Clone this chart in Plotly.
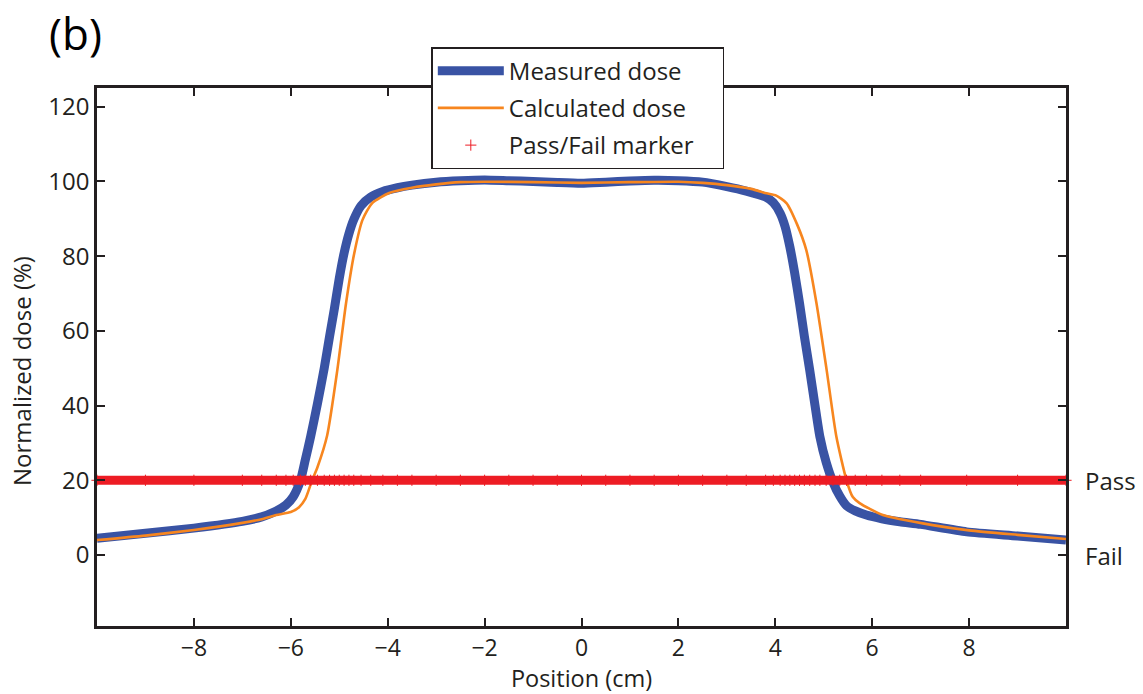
import plotly.graph_objects as go

# ---- data ----
pos_meas = [-10, -9, -8, -7, -6.6, -6.3, -6.1, -5.95, -5.8, -5.7, -5.59, -5.45, -5.31, -5.2, -5.1,
            -5.0, -4.9, -4.8, -4.7, -4.55, -4.35, -4.1, -3.8, -3.5, -3.0, -2.5, -2.0, -1.5, -1.0, -0.5,
            0.0, 0.5, 1.0, 1.5, 2.0, 2.5, 3.0, 3.4, 3.8, 3.96, 4.1, 4.2, 4.3, 4.4, 4.5,
            4.6, 4.71, 4.82, 4.92, 5.05, 5.19, 5.33, 5.47, 5.65, 5.88, 6.2, 6.57, 7.0, 7.95, 9.0, 10.0]
dose_meas = [4.5, 5.8, 7.2, 9.0, 10.2, 11.8, 13.4, 15.6, 20.0, 25.5, 31.7, 40.5, 50.0, 58.5, 66.0,
             74.0, 80.8, 86.0, 89.8, 93.5, 95.8, 97.3, 98.3, 99.0, 99.8, 100.2, 100.4, 100.2, 100.0, 99.7,
             99.5, 99.8, 100.1, 100.3, 100.2, 99.8, 98.6, 97.4, 95.8, 94.3, 91.5, 88.0, 82.5, 75.5, 67.4,
             58.5, 49.5, 40.0, 31.7, 24.8, 19.5, 15.8, 13.2, 11.8, 10.7, 9.7, 8.9, 8.2, 6.2, 5.1, 4.0]

pos_calc = [-10, -9, -8, -7, -6.6, -6.3, -6.0, -5.83, -5.7, -5.56, -5.45, -5.25, -5.04, -4.86, -4.69,
            -4.52, -4.32, -3.97, -3.5, -3.0, -2.5, -2.0, -1.0, 0.0, 1.0, 2.0, 2.5, 3.0, 3.5, 3.82,
            4.02, 4.23, 4.45, 4.64, 4.85, 5.06, 5.26, 5.47, 5.6, 5.74, 6.22, 7.25, 8.0, 9.0, 10.0]
dose_calc = [4.0, 5.2, 6.7, 8.6, 9.6, 10.7, 11.5, 12.8, 15.0, 20.0, 23.5, 32.0, 49.5, 67.4, 80.8,
             89.7, 94.2, 96.9, 98.3, 99.2, 99.8, 99.9, 99.8, 99.6, 99.8, 99.9, 99.6, 99.0, 98.0, 96.8,
             96.2, 94.2, 88.5, 81.6, 67.4, 49.5, 31.7, 20.0, 15.5, 13.9, 10.7, 8.0, 6.6, 5.4, 4.3]

passfail_level = 20
passfail_y = [passfail_level] * len(pos_meas)

x_ticks = [-8, -6, -4, -2, 0, 2, 4, 6, 8]
x_ticktext = ["\u22128", "\u22126", "\u22124", "\u22122", "0", "2", "4", "6", "8"]
y_ticks = [0, 20, 40, 60, 80, 100, 120]
right_labels = ["Pass", "Fail"]
right_label_vals = [20, 0]

BLUE = "#3953A4"
ORANGE = "#F7861F"
RED = "#ED1C24"
INK = "#231F20"
FONT = "Open Sans"
FS = 24
PAD = "\u00a0" * 5  # widens the legend box to match the reference

fig = go.Figure()
fig.add_trace(go.Scatter(x=pos_meas, y=dose_meas, mode="lines", name="Measured dose",
                         line=dict(color=BLUE, width=9, shape="spline", smoothing=0.6), legendgroup="a"))
fig.add_trace(go.Scatter(x=pos_calc, y=dose_calc, mode="lines", name="Calculated dose" + PAD,
                         line=dict(color=ORANGE, width=2.6, shape="spline", smoothing=0.6), legendgroup="b"))
fig.add_trace(go.Scatter(x=pos_meas, y=passfail_y, mode="lines", showlegend=False,
                         line=dict(color=RED, width=9), legendgroup="c", hoverinfo="skip"))
fig.add_trace(go.Scatter(x=pos_meas, y=passfail_y, mode="markers", name="Pass/Fail marker",
                         marker=dict(symbol="cross-thin", size=8, line=dict(color=RED, width=1), color=RED),
                         legendgroup="c", cliponaxis=False))

for txt, val in zip(right_labels, right_label_vals):
    fig.add_annotation(text=txt, xref="paper", x=1, xshift=17, xanchor="left",
                       yref="y", y=val, showarrow=False, font=dict(size=FS, color=INK, family=FONT))

fig.add_annotation(text="(b)", xref="paper", yref="paper", x=-0.052, y=1.102,
                   xanchor="left", yanchor="middle", showarrow=False,
                   font=dict(size=44, color="black", family=FONT))

fig.add_annotation(text="Normalized dose (%)", xref="paper", yref="paper", x=-0.0774, y=0.474,
                   xanchor="center", yanchor="middle", textangle=-90, showarrow=False,
                   font=dict(size=FS, color=INK, family=FONT))

axis_common = dict(showline=True, linecolor=INK, linewidth=2.6, mirror="ticks",
                   ticks="inside", ticklen=8, tickwidth=2.4, tickcolor=INK,
                   showgrid=False, zeroline=False, automargin=False)

fig.update_xaxes(range=[-10, 10], tickvals=x_ticks, ticktext=x_ticktext,
                 tickfont=dict(size=23, color=INK, family=FONT),
                 title=dict(text="Position (cm)", font=dict(size=23.5, color=INK, family=FONT), standoff=2),
                 **axis_common)
fig.update_yaxes(range=[-19, 125], tickvals=y_ticks,
                 tickfont=dict(size=FS, color=INK, family=FONT), **axis_common)

fig.update_layout(
    width=1143, height=694,
    margin=dict(l=97, r=77, t=88, b=68, autoexpand=False),
    paper_bgcolor="white", plot_bgcolor="white",
    font=dict(family=FONT, color=INK),
    showlegend=True,
    legend=dict(x=0.345, y=1.076, xanchor="left", yanchor="top",
                bgcolor="white", bordercolor=INK, borderwidth=1.5,
                font=dict(size=FS, color=INK, family=FONT),
                traceorder="grouped", tracegroupgap=3, itemwidth=66),
)

fig.write_html("out.html", config={"displayModeBar": False},
               post_script="document.body.style.margin='0';document.body.style.padding='0';")
